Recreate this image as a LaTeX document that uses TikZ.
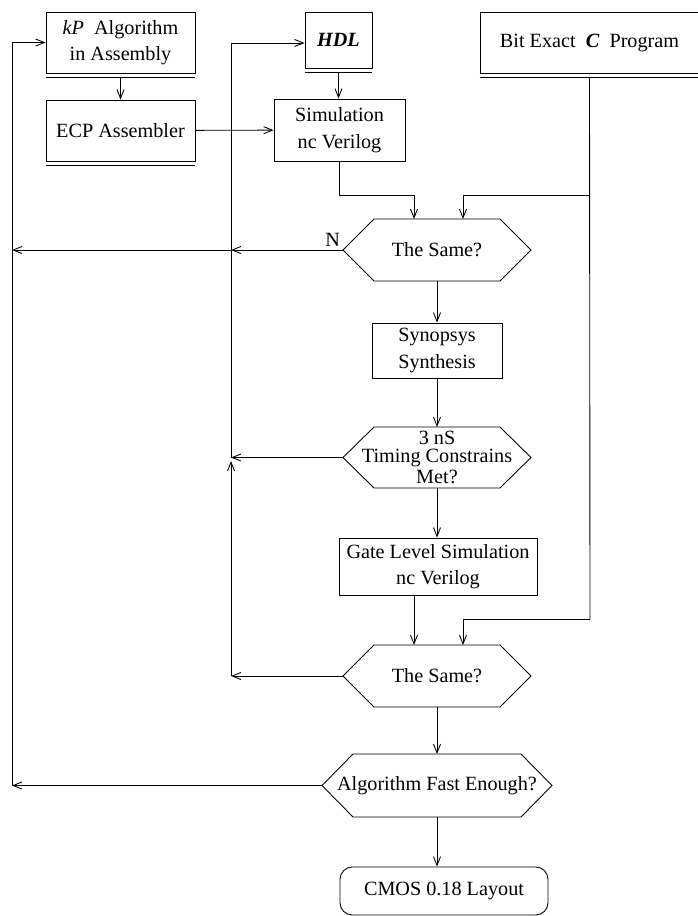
\documentclass[tikz,border=0pt]{standalone}
\usepackage{fontspec}
\setmainfont{Liberation Serif}
\usetikzlibrary{arrows.meta}

\begin{document}
\begin{tikzpicture}[x = 0.02cm, y = -0.02cm, line width = 0.5pt,
  >={Straight Barb[length=5pt, width=4pt]},
  every node/.style = {font=\fontsize{11.5}{15}\selectfont, inner sep=0pt, align=center},
  box/.style = {draw, rectangle},
  hexa/.style = {rectangle, minimum width=2.52cm, minimum height=1.24cm}]

\useasboundingbox (0, 0) rectangle (697, 916);

\node[box, minimum width=2.98cm, minimum height=1.22cm] (kp) at (120.5, 42.5) {\textit{kP}\ \ Algorithm\\in Assembly};
\node[box, minimum width=2.98cm, minimum height=1.22cm] (ecp) at (120.5, 130.5) {ECP Assembler};
\node[box, minimum width=1.34cm, minimum height=1.12cm] (hdl) at (338.5, 40) {\textbf{\textit{HDL}}};
\node[box, minimum width=4.38cm, minimum height=1.22cm] (cprog) at (589.5, 42.5) {Bit Exact\ \ \textbf{\textit{C}}\ \ Program};
\node[box, minimum width=2.62cm, minimum height=1.24cm] (sim) at (339.5, 130) {Simulation\\nc Verilog};

\node[hexa] (same1) at (437, 250) {The Same?};
\node[box, minimum width=2.6cm, minimum height=1.1cm] (syn) at (437, 350.5) {Synopsys\\Synthesis};
\node[hexa, minimum height=1.22cm] (timing) at (437, 457.5) {3 nS\\[-5pt]Timing Constrains\\[-3pt]Met?};
\node[box, minimum width=3.96cm, minimum height=1.14cm] (gate) at (438, 566.5) {Gate Level Simulation\\nc Verilog};
\node[hexa] (same2) at (437, 676) {The Same?};
\node[hexa, minimum height=1.26cm] (fast) at (437, 785.5) {Algorithm Fast Enough?};
\node[box, rounded corners=7pt, minimum width=4.16cm, minimum height=0.96cm] (cmos) at (444, 891) {CMOS 0.18 Layout};

% hexagon outlines: name / half width of flat top / half height
\foreach \h/\w/\t in {same1/1.26/0.62, timing/1.26/0.61, same2/1.26/0.62, fast/1.68/0.63} {
  \draw ([shift={(-\w cm, \t cm)}]\h.center) -- ([shift={(\w cm, \t cm)}]\h.center)
    -- ([shift={(\w cm + 0.62cm, 0)}]\h.center)
    -- ([shift={(\w cm, -\t cm)}]\h.center) -- ([shift={(-\w cm, -\t cm)}]\h.center)
    -- ([shift={(-\w cm - 0.62cm, 0)}]\h.center) -- cycle;
  \coordinate (\h-tip) at ([shift={(-\w cm - 0.62cm, 0)}]\h.center);
  \coordinate (\h-top) at ([yshift=\t cm]\h.center);
  \coordinate (\h-bot) at ([yshift=-\t cm]\h.center);
}

% double lines under the source boxes
\foreach \b in {kp, ecp, hdl, cprog}
  \draw ([yshift=-0.08cm]\b.south west) -- ([yshift=-0.08cm]\b.south east);

\node[above left, inner sep=1.5pt] (n) at (same1-tip) {N};

\coordinate (lbus) at (12, 0);
\coordinate (mbus) at (231, 0);
\coordinate (c1) at (590, 195);
\coordinate (c2) at (590, 619);
\coordinate (mup) at (231, 461);
\coordinate (s1in) at ([xshift=-0.46cm]same1-top);
\coordinate (s2in) at ([xshift=-0.46cm]same2-top);

\draw[->] ([yshift=-0.08cm]kp.south) -- (ecp.north);
\draw[->] ([yshift=-0.08cm]hdl.south) -- (hdl.south |- sim.north);
\draw[->] (ecp) -- (sim);
\draw[->] (sim.south) |- (s1in |- c1) -- (s1in);

\draw ([yshift=-0.08cm]cprog.south) -- (c2);
\draw[->] (c1) -| ([xshift=0.52cm]same1-top);
\draw[->] (c2) -| ([xshift=0.52cm]same2-top);

\draw[->] (same1-bot) -- (syn.north);
\draw[->] (syn.south) -- (timing-top);
\draw[->] (timing-bot) -- (timing-bot |- gate.north);
\draw[->] (gate.south -| s2in) -- (s2in);
\draw[->] (same2-bot) -- (fast-top);
\draw[->] (fast-bot) -- (fast-bot |- cmos.north);

\draw[->] (same1-tip) -- (same1-tip -| mbus);
\draw[->] (same1-tip -| mbus) -- (same1-tip -| lbus);
\draw[->] (timing-tip) -- (timing-tip -| mbus);
\draw[->] (same2-tip) -- (same2-tip -| mbus);
\draw[->] (same2-tip -| mbus) -- (mup);
\draw[->] (timing-tip -| mbus) |- ([yshift=-0.06cm]hdl.west);
\draw[->] (fast-tip) -- (fast-tip -| lbus);
\draw[->] (fast-tip -| lbus) |- (kp.west);
\end{tikzpicture}
\end{document}
